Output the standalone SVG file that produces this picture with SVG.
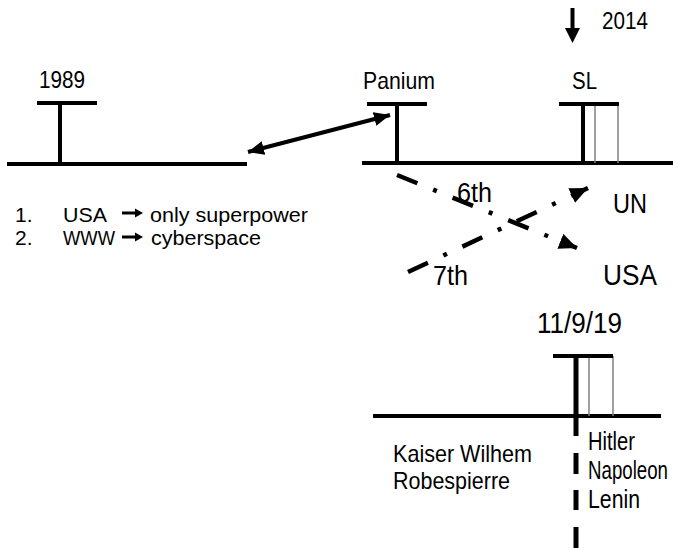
<svg xmlns="http://www.w3.org/2000/svg" width="673" height="548" viewBox="0 0 673 548">
<style>
.t{font-family:"Liberation Sans Narrow","Liberation Sans",Arial,sans-serif;fill:#000;}
.k{stroke:#000;stroke-width:4;fill:none;stroke-linecap:butt;}
.g{stroke:#7f7f7f;stroke-width:1.5;fill:none;}
.dd{stroke:#000;stroke-width:4.5;fill:none;stroke-dasharray:22 17 4 17;}
.v{stroke:#000;stroke-width:5;}
</style>
<defs>
<marker id="ah" markerUnits="userSpaceOnUse" markerWidth="20" markerHeight="16" refX="16" refY="7" orient="auto-start-reverse">
<path d="M0,0 L16,7 L0,14 z" fill="#000"/>
</marker>
<marker id="ah2" markerUnits="userSpaceOnUse" markerWidth="22" markerHeight="18" refX="18" refY="8" orient="auto">
<path d="M0,0 L18,8 L0,16 z" fill="#000"/>
</marker>
</defs>
<rect width="673" height="548" fill="#fff"/>

<g id="timeline-1989">
<line class="k" x1="7" y1="164" x2="247" y2="164"/>
<line class="k" x1="37" y1="103" x2="97" y2="103"/>
<line class="k" x1="60" y1="103" x2="60" y2="164"/>
<text class="t" x="39" y="88" font-size="23" textLength="46" lengthAdjust="spacingAndGlyphs">1989</text>
</g>

<g id="list">
<text class="t" x="15" y="222" font-size="21">1.</text>
<text class="t" x="63" y="222" font-size="21" textLength="44" lengthAdjust="spacingAndGlyphs">USA</text>
<line x1="122" y1="213" x2="136" y2="213" stroke="#000" stroke-width="3"/>
<polygon points="135,208.5 143,213 135,217.5" fill="#000"/>
<text class="t" x="150" y="222" font-size="21" textLength="158" lengthAdjust="spacingAndGlyphs">only superpower</text>
<text class="t" x="15" y="245" font-size="21">2.</text>
<text class="t" x="63" y="245" font-size="21" textLength="52" lengthAdjust="spacingAndGlyphs">WWW</text>
<line x1="122" y1="237" x2="136" y2="237" stroke="#000" stroke-width="3"/>
<polygon points="135,232.5 143,237 135,241.5" fill="#000"/>
<text class="t" x="151" y="245" font-size="21" textLength="110" lengthAdjust="spacingAndGlyphs">cyberspace</text>
</g>

<g id="timeline-panium">
<line class="k" x1="362" y1="163" x2="673" y2="163"/>
<line class="k" x1="367" y1="104" x2="427" y2="104"/>
<line class="k" x1="397" y1="104" x2="397" y2="163"/>
<text class="t" x="363" y="89" font-size="24" textLength="72" lengthAdjust="spacingAndGlyphs">Panium</text>
</g>

<g id="sl">
<line class="g" x1="595" y1="104" x2="595" y2="163"/>
<line class="g" x1="618" y1="104" x2="618" y2="163"/>
<line class="k" x1="559" y1="104" x2="619" y2="104"/>
<line class="k" x1="583" y1="104" x2="583" y2="163"/>
<text class="t" x="572" y="89" font-size="24" textLength="25" lengthAdjust="spacingAndGlyphs">SL</text>
</g>

<g id="y2014">
<line class="k" x1="572.5" y1="8" x2="572.5" y2="30"/>
<polygon points="565,28 580,28 572.5,43" fill="#000"/>
<text class="t" x="602" y="29" font-size="24" textLength="46" lengthAdjust="spacingAndGlyphs">2014</text>
</g>

<g id="labels">
<text class="t" x="613" y="213" font-size="28" textLength="34" lengthAdjust="spacingAndGlyphs">UN</text>
<text class="t" x="603" y="285" font-size="29" textLength="54" lengthAdjust="spacingAndGlyphs">USA</text>
<text class="t" x="457" y="202" font-size="27" textLength="35" lengthAdjust="spacingAndGlyphs">6th</text>
<text class="t" x="433" y="285" font-size="28" textLength="35" lengthAdjust="spacingAndGlyphs">7th</text>
</g>

<g id="connectors">
<line class="k" x1="248" y1="152" x2="390" y2="115" marker-start="url(#ah)" marker-end="url(#ah)"/>
<line class="dd" x1="397" y1="175" x2="577" y2="248" marker-end="url(#ah2)"/>
<line class="dd" x1="408" y1="272" x2="588" y2="188" marker-end="url(#ah2)"/>
</g>

<g id="timeline-2019">
<line class="k" x1="373" y1="416" x2="661" y2="416"/>
<line class="g" x1="589" y1="356" x2="589" y2="416"/>
<line class="g" x1="613" y1="356" x2="613" y2="416"/>
<line class="k" x1="553" y1="356" x2="613" y2="356"/>
<line class="v" x1="576" y1="354" x2="576" y2="436"/>
<line class="v" x1="576" y1="453" x2="576" y2="474"/>
<line class="v" x1="576" y1="490" x2="576" y2="510"/>
<line class="v" x1="576" y1="527" x2="576" y2="548"/>
<text class="t" x="537" y="333" font-size="29" textLength="85" lengthAdjust="spacingAndGlyphs">11/9/19</text>
<text class="t" x="393" y="462" font-size="24" textLength="139" lengthAdjust="spacingAndGlyphs">Kaiser Wilhem</text>
<text class="t" x="393" y="489" font-size="24" textLength="117" lengthAdjust="spacingAndGlyphs">Robespierre</text>
<text class="t" x="588" y="450" font-size="26" textLength="47" lengthAdjust="spacingAndGlyphs">Hitler</text>
<text class="t" x="588" y="479" font-size="26" textLength="80" lengthAdjust="spacingAndGlyphs">Napoleon</text>
<text class="t" x="588" y="508" font-size="26" textLength="52" lengthAdjust="spacingAndGlyphs">Lenin</text>
</g>
</svg>
